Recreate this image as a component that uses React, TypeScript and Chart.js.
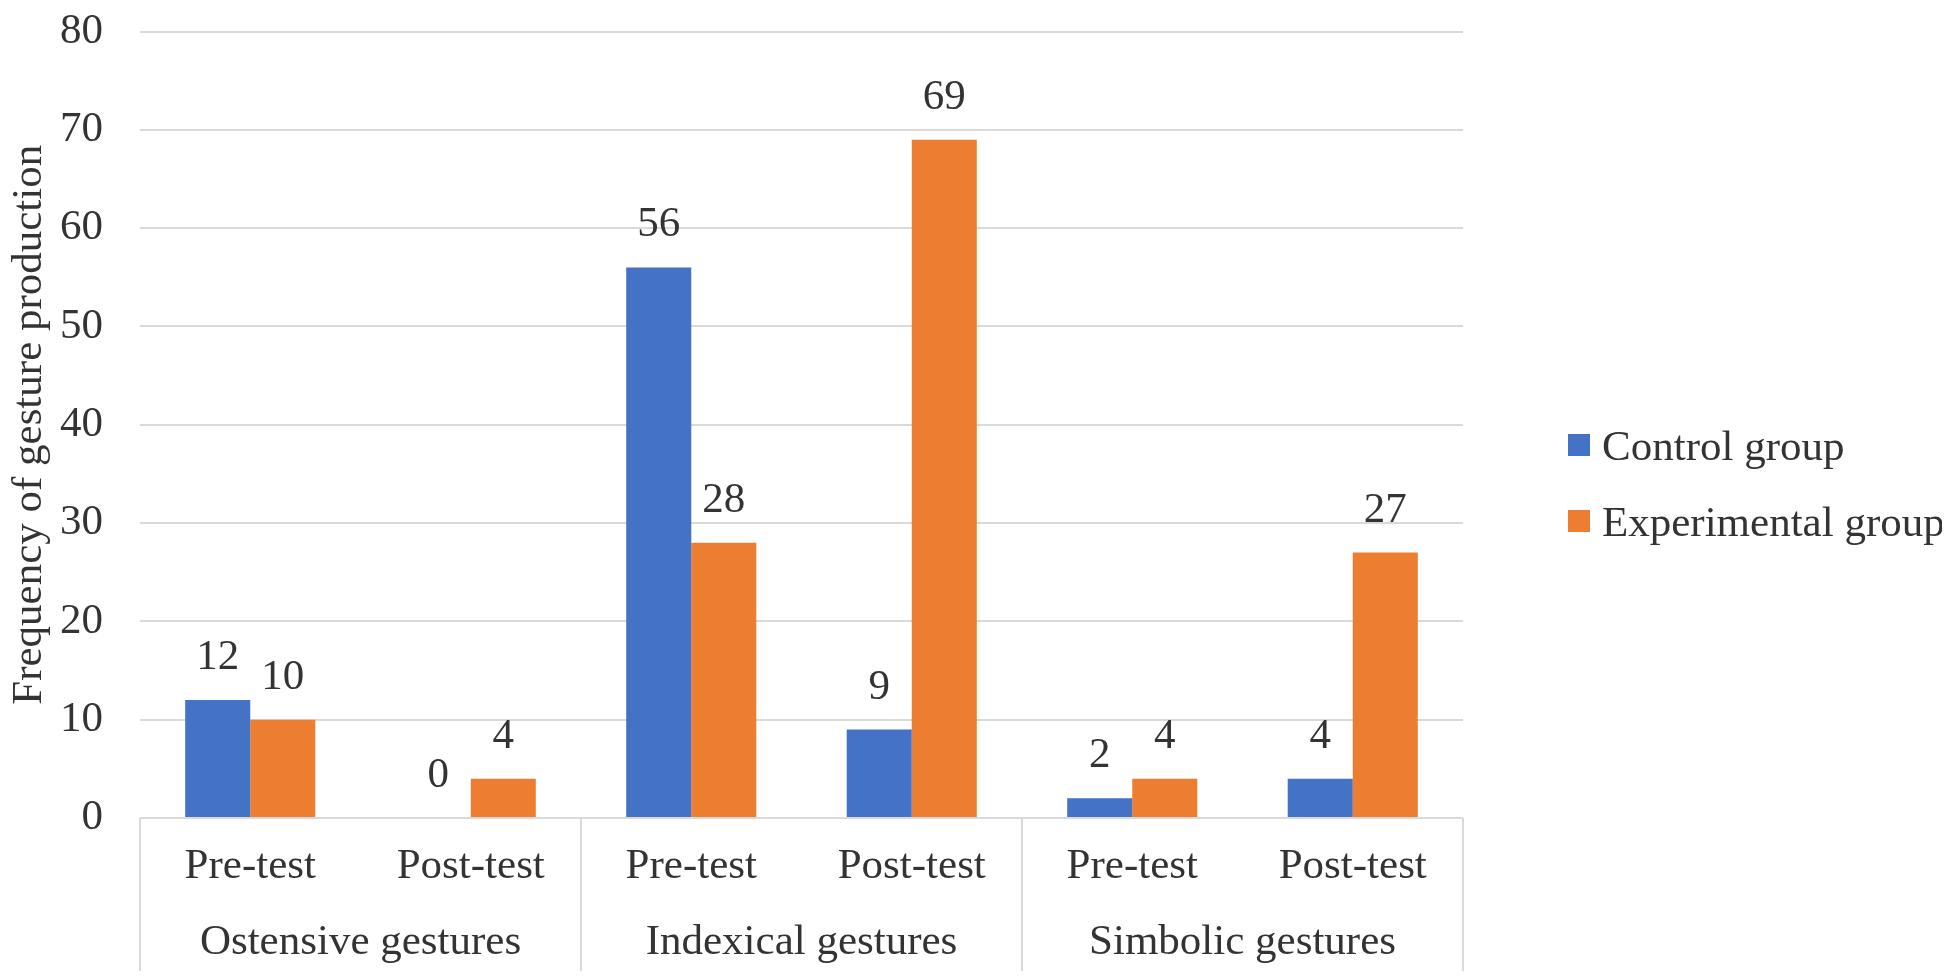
import React, { useEffect, useRef } from 'react';
import { Chart, registerables } from 'chart.js';

Chart.register(...registerables);

const phases = ['Pre-test', 'Post-test', 'Pre-test', 'Post-test', 'Pre-test', 'Post-test'];
const gestureGroups = ['Ostensive gestures', 'Indexical gestures', 'Simbolic gestures'];
const controlGroup = [12, 0, 56, 9, 2, 4];
const experimentalGroup = [10, 4, 28, 69, 4, 27];
const seriesNames = ['Control group', 'Experimental group'];
const seriesColors = ['#4472C4', '#ED7D31'];
const yMin = 0;
const yMax = 80;
const yStep = 10;

const FONT = "'Liberation Serif', 'Times New Roman', serif";
const SIZE = 43;
const TEXT = '#333333';
const GRID = '#d9d9d9';
const BOX_DEPTH = 153;

// numbers above every bar
const valueLabels = {
  id: 'valueLabels',
  afterDatasetsDraw(chart: any) {
    const ctx = chart.ctx;
    ctx.save();
    ctx.font = `${SIZE}px ${FONT}`;
    ctx.fillStyle = TEXT;
    ctx.textAlign = 'center';
    ctx.textBaseline = 'alphabetic';
    chart.data.datasets.forEach((ds: any, i: number) => {
      const meta = chart.getDatasetMeta(i);
      meta.data.forEach((bar: any, j: number) => {
        ctx.fillText(String(ds.data[j]), bar.x, bar.y - 31);
      });
    });
    ctx.restore();
  },
};

// second level of the x axis: group names and the box lines
const groupAxis = {
  id: 'groupAxis',
  afterDraw(chart: any) {
    const ctx = chart.ctx;
    const x = chart.scales.x;
    const bottom = chart.chartArea.bottom;
    const per = phases.length / gestureGroups.length;
    const edge = (i: number) => {
      if (i <= 0) return x.left;
      if (i >= phases.length) return x.right;
      return (x.getPixelForValue(i - 1) + x.getPixelForValue(i)) / 2;
    };
    ctx.save();
    ctx.strokeStyle = GRID;
    ctx.lineWidth = 2;
    for (let g = 0; g <= gestureGroups.length; g++) {
      const px = Math.round(edge(g * per));
      ctx.beginPath();
      ctx.moveTo(px, bottom);
      ctx.lineTo(px, bottom + BOX_DEPTH);
      ctx.stroke();
    }
    ctx.font = `${SIZE}px ${FONT}`;
    ctx.fillStyle = TEXT;
    ctx.textAlign = 'center';
    ctx.textBaseline = 'middle';
    gestureGroups.forEach((name, g) => {
      const cx = (edge(g * per) + edge((g + 1) * per)) / 2;
      ctx.fillText(name, cx, bottom + 125);
    });
    ctx.restore();
  },
};

export default function App() {
  const canvasRef = useRef<HTMLCanvasElement | null>(null);

  useEffect(() => {
    if (!canvasRef.current) return;
    const chart = new Chart(canvasRef.current, {
      type: 'bar',
      data: {
        labels: phases,
        datasets: [
          { label: seriesNames[0], data: controlGroup, backgroundColor: seriesColors[0] },
          { label: seriesNames[1], data: experimentalGroup, backgroundColor: seriesColors[1] },
        ],
      },
      options: {
        animation: false,
        responsive: true,
        maintainAspectRatio: false,
        layout: { padding: { top: 0, right: 479, left: 0, bottom: 0 } },
        datasets: { bar: { categoryPercentage: 0.59, barPercentage: 1 } },
        plugins: {
          legend: { display: false },
          tooltip: { enabled: false },
        },
        scales: {
          x: {
            grid: { display: false, drawTicks: false },
            border: { display: false },
            ticks: { color: TEXT, font: { family: FONT, size: SIZE }, padding: 23 },
            afterFit: (scale: any) => {
              scale.height = BOX_DEPTH;
            },
          },
          y: {
            min: yMin,
            max: yMax,
            ticks: {
              stepSize: yStep,
              color: TEXT,
              font: { family: FONT, size: SIZE, lineHeight: 1 },
              padding: 2,
            },
            // invisible tick marks make the gap between the numbers and the plot
            grid: {
              color: GRID,
              lineWidth: 2,
              drawTicks: true,
              tickLength: 35,
              tickColor: 'rgba(0,0,0,0)',
            },
            border: { display: false },
            title: {
              display: true,
              text: 'Frequency of gesture production',
              color: TEXT,
              font: { family: FONT, size: SIZE, lineHeight: 1 },
              padding: { top: 0, bottom: 7 },
            },
          },
        },
      },
      plugins: [valueLabels, groupAxis],
    });
    return () => chart.destroy();
  }, []);

  return (
    <div style={{ position: 'relative', width: 1934, height: 963 }}>
      <canvas ref={canvasRef}></canvas>
      {seriesNames.map((name, i) => (
        <div
          key={name}
          style={{
            position: 'absolute',
            left: 1560,
            top: 437 + i * 76 - 25,
            height: 50,
            display: 'flex',
            alignItems: 'center',
            fontFamily: FONT,
            fontSize: SIZE,
            color: TEXT,
            whiteSpace: 'nowrap',
          }}
        >
          <span
            style={{
              display: 'inline-block',
              width: 22,
              height: 22,
              background: seriesColors[i],
              marginRight: 12,
            }}
          ></span>
          {name}
        </div>
      ))}
    </div>
  );
}
